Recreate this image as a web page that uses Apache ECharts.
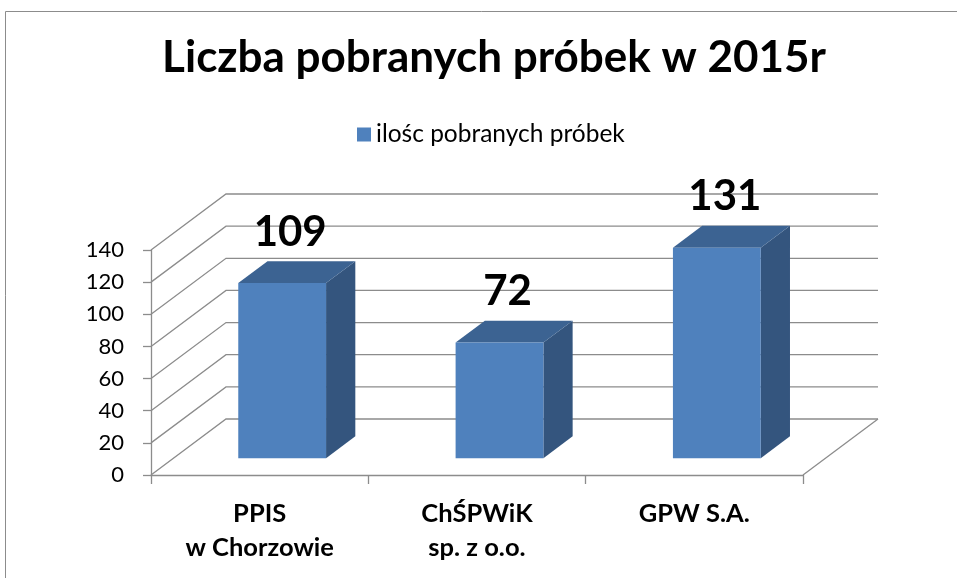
<!DOCTYPE html>
<html>
<head>
<meta charset="utf-8">
<title>Liczba pobranych próbek w 2015r</title>
<script src="https://cdn.jsdelivr.net/npm/echarts@6/dist/echarts.min.js"></script>
<style>
    html, body { margin: 0; padding: 0; background: #fff; }
    #chart { width: 957px; height: 578px; }
</style>
</head>
<body>
<div id="chart"></div>
<script>
// dane
var categories = ['PPIS\nw Chorzowie', 'ChŚPWiK\nsp. z o.o.', 'GPW S.A.'];
var values = [109, 72, 131];
var yTicks = [0, 20, 40, 60, 80, 100, 120, 140];
var seriesName = 'ilośc pobranych próbek';

// przesuniecie "glebi" 3D (px)
var DX = 75, DY = -56;
var FONT = 'Lato, "Noto Sans", sans-serif';

var chart = echarts.init(document.getElementById('chart'));

function renderWall(params, api) {
    var cs = params.coordSys;
    var v = api.value(1);
    var y = api.coord([0, v])[1];
    var style = { stroke: '#8c8c8c', lineWidth: 1.3, fill: null };
    var children = [{
        type: 'polyline',
        shape: { points: [[cs.x, y], [cs.x + DX, y + DY], [cs.x + cs.width + DX, y + DY]] },
        style: style
    }];
    if (v === 0) {
        children.push({
            type: 'line',
            shape: { x1: cs.x + cs.width, y1: y, x2: cs.x + cs.width + DX, y2: y + DY },
            style: style
        });
    }
    return { type: 'group', children: children };
}

function renderBar(params, api) {
    var i = api.value(0), v = api.value(1);
    var base = api.coord([i, 0]);
    var top = api.coord([i, v]);
    var bw = api.size([1, 0])[0];
    var w = bw * 0.404;
    var d0 = 0.30, d1 = 0.69;
    var x0 = base[0] - w / 2 + d0 * DX, x1 = x0 + w;
    var yb = base[1] + d0 * DY, yt = top[1] + d0 * DY;
    var bdx = (d1 - d0) * DX, bdy = (d1 - d0) * DY;
    return {
        type: 'group',
        children: [
            {
                type: 'polygon',
                shape: { points: [[x1, yb], [x1 + bdx, yb + bdy], [x1 + bdx, yt + bdy], [x1, yt]] },
                style: { fill: '#34557e' }
            },
            {
                type: 'polygon',
                shape: { points: [[x0, yt], [x1, yt], [x1 + bdx, yt + bdy], [x0 + bdx, yt + bdy]] },
                style: { fill: '#3c6392' }
            },
            {
                type: 'rect',
                shape: { x: x0, y: yt, width: w, height: yb - yt },
                style: { fill: '#4f81bd' }
            },
            {
                type: 'text',
                x: (x0 + x1) / 2 + 8,
                y: yt + bdy - 29,
                style: {
                    text: String(v),
                    fill: '#000',
                    font: 'bold 42px ' + FONT,
                    align: 'center',
                    verticalAlign: 'middle'
                }
            }
        ]
    };
}

var option = {
    animation: false,
    title: {
        text: 'Liczba pobranych próbek w 2015r',
        left: 489,
        textAlign: 'center',
        top: 31,
        textStyle: { fontFamily: FONT, fontSize: 44, fontWeight: 'bold', color: '#000' }
    },
    legend: {
        data: [seriesName],
        left: 357,
        top: 122,
        padding: 0,
        itemWidth: 14,
        itemHeight: 14,
        itemGap: 6,
        icon: 'rect',
        textStyle: { fontFamily: FONT, fontSize: 24.5, color: '#000' }
    },
    graphic: [{
        type: 'rect',
        shape: { x: 5.5, y: 11.5, width: 960, height: 600 },
        style: { fill: null, stroke: '#8c8c8c', lineWidth: 1 },
        silent: true
    }],
    grid: { left: 151, right: 154, top: 250, bottom: 103 },
    xAxis: {
        type: 'category',
        data: categories,
        axisLine: { lineStyle: { color: '#8c8c8c', width: 1.3 } },
        axisTick: { show: true, length: 9, lineStyle: { color: '#8c8c8c', width: 1.3 } },
        axisLabel: {
            margin: 22,
            fontFamily: FONT,
            fontSize: 25.5,
            fontWeight: 'bold',
            lineHeight: 34,
            color: '#000'
        },
        splitLine: { show: false }
    },
    yAxis: {
        type: 'value',
        min: 0,
        max: 140,
        interval: 20,
        axisLine: { show: true, lineStyle: { color: '#8c8c8c', width: 1.3 } },
        axisTick: { show: true, length: 8, lineStyle: { color: '#8c8c8c', width: 1.3 } },
        axisLabel: { margin: 27, fontFamily: FONT, fontSize: 22, color: '#000' },
        splitLine: { show: false }
    },
    series: [
        {
            type: 'custom',
            name: 'wall',
            silent: true,
            z: 1,
            renderItem: renderWall,
            encode: { x: 0, y: 1 },
            data: yTicks.map(function (t) { return [0, t]; })
        },
        {
            type: 'custom',
            name: seriesName,
            z: 3,
            itemStyle: { color: '#4f81bd' },
            renderItem: renderBar,
            encode: { x: 0, y: 1 },
            data: values.map(function (v, i) { return [i, v]; })
        }
    ]
};

chart.setOption(option);
</script>
</body>
</html>
